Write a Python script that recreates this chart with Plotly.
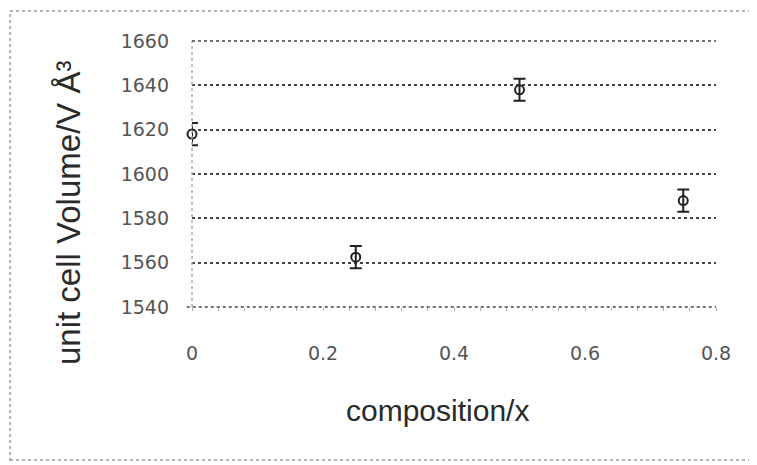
import plotly.graph_objects as go

composition = [0, 0.25, 0.5, 0.75]
volume = [1618, 1562.5, 1638, 1588]
volume_err = [5, 5, 5, 5]

x_ticks = [0, 0.2, 0.4, 0.6, 0.8]
x_ticktext = ["0", "0.2", "0.4", "0.6", "0.8"]
y_ticks = [1540, 1560, 1580, 1600, 1620, 1640, 1660]

# page has an 8px body margin; figure coordinates = page coordinates - 8
W, H = 749, 457
L, R, T, B = 184, 41, 33, 158
pw, ph = W - L - R, H - T - B

y_range = [y_ticks[0], y_ticks[-1]]


def px(xf):
    return (xf - L) / pw


def py(yf):
    return (T + ph - yf) / ph


def y_paper(v):
    return (v - y_range[0]) / (y_range[1] - y_range[0])


fig = go.Figure()
fig.add_trace(go.Scatter(
    x=composition, y=volume, mode="markers", cliponaxis=False,
    marker=dict(symbol="circle-open", size=9, color="#222", line=dict(width=2)),
    error_y=dict(type="data", array=volume_err, visible=True, color="#222", thickness=2, width=6),
    showlegend=False,
))

grid_style = dict(color="#444", width=1.5, dash="dot")

fig.update_layout(
    width=W, height=H,
    margin=dict(l=L, r=R, t=T, b=B),
    paper_bgcolor="white", plot_bgcolor="white",
    font=dict(family="Liberation Sans, Arial, sans-serif"),
    xaxis=dict(range=[0, 0.8], tickvals=x_ticks, ticktext=x_ticktext,
               showgrid=False, zeroline=False, showline=False,
               ticks="", minor=dict(ticks="outside", dtick=0.04, ticklen=3, tickcolor="#aaa"),
               tickfont=dict(family="DejaVu Sans", size=19, color="#555"), ticklabelstandoff=33),
    yaxis=dict(range=y_range, tickvals=y_ticks, showgrid=True,
               gridcolor="#444", griddash="dot", gridwidth=1.5,
               zeroline=False, showline=False,
               tickfont=dict(family="DejaVu Sans", size=19, color="#555"), ticklabelstandoff=22),
    annotations=[
        dict(text="unit cell Volume/V Å³", xref="paper", yref="paper",
             x=px(60), y=py(205), textangle=-90, showarrow=False,
             font=dict(size=33, color="#2a2a2a"), xanchor="center", yanchor="middle"),
        dict(text="composition/x", xref="paper", yref="paper",
             x=px(429), y=py(402), showarrow=False,
             font=dict(size=30, color="#2a2a2a"), xanchor="center", yanchor="middle"),
    ],
    shapes=[
        dict(type="line", xref="paper", yref="paper", x0=0, x1=0, y0=0, y1=1,
             line=dict(color="#aaa", width=1.5, dash="dot")),
        dict(type="line", xref="paper", yref="paper", x0=-0.01, x1=1,
             y0=y_paper(y_ticks[0]), y1=y_paper(y_ticks[0]), line=grid_style),
        dict(type="line", xref="paper", yref="paper", x0=0, x1=1,
             y0=y_paper(y_ticks[-1]), y1=y_paper(y_ticks[-1]), line=grid_style),
        dict(type="rect", xref="paper", yref="paper",
             x0=px(2), x1=px(742), y0=py(452), y1=py(3),
             line=dict(color="#999", width=1.5, dash="dot")),
    ],
)

fig.write_html("out.html")
